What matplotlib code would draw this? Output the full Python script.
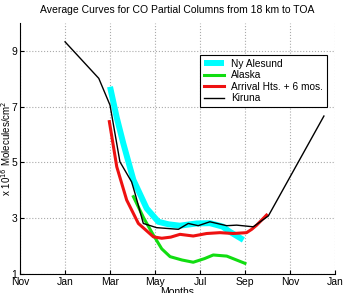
import matplotlib
matplotlib.use('Agg')
import matplotlib.pyplot as plt

plt.rcParams['font.family'] = ['Liberation Sans', 'DejaVu Sans']

# month index: 0 = Nov, 2 = Jan, ... 14 = Jan
tick_pos = [0, 2, 4, 6, 8, 10, 12, 14]
tick_labels = ['Nov', 'Jan', 'Mar', 'May', 'Jul', 'Sep', 'Nov', 'Jan']

ny_months = [4, 4.3, 4.59, 5.04, 5.63, 6.15, 6.6, 7.1, 7.85, 8.44, 9.0, 9.33, 9.93]
ny_vals = [7.71, 6.6, 5.68, 4.37, 3.35, 2.87, 2.78, 2.73, 2.81, 2.82, 2.7, 2.51, 2.22]

ak_months = [5.04, 5.5, 5.93, 6.3, 6.67, 7.2, 7.7, 8.2, 8.59, 9.19, 10.0]
ak_vals = [3.77, 3.0, 2.39, 1.9, 1.62, 1.5, 1.42, 1.55, 1.68, 1.64, 1.38]

ah_months = [3.97, 4.3, 4.74, 5.26, 5.93, 6.3, 6.7, 7.11, 7.7, 8.3, 8.89, 9.48, 10.07, 10.3, 10.52, 10.96]
ah_vals = [6.46, 4.84, 3.65, 2.81, 2.33, 2.28, 2.32, 2.42, 2.36, 2.45, 2.48, 2.45, 2.48, 2.6, 2.75, 3.11]

ki_months = [2, 3.5, 4, 4.44, 4.96, 5.11, 5.48, 6.07, 7.04, 7.48, 7.92, 8.44, 9.19, 9.63, 10.37, 11.04, 13.51]
ki_vals = [9.32, 8.01, 7.05, 5.02, 4.3, 3.89, 2.81, 2.66, 2.6, 2.81, 2.73, 2.87, 2.73, 2.75, 2.69, 3.08, 6.66]

fig = plt.figure(figsize=(3.46, 2.93), dpi=100)
ax = fig.add_axes([0.058, 0.065, 0.91, 0.857])

ax.plot(ny_months, ny_vals, color='#00ffff', lw=4.3, label='Ny Alesund', solid_capstyle='butt')
ax.plot(ak_months, ak_vals, color='#11dd11', lw=2.2, label='Alaska')
ax.plot(ah_months, ah_vals, color='#ee1111', lw=2.2, label='Arrival Hts. + 6 mos.')
ax.plot(ki_months, ki_vals, color='black', lw=1.0, label='Kiruna')

ax.set_xlim(0, 14)
ax.set_ylim(1, 10)
ax.set_xticks(tick_pos)
ax.set_xticklabels(tick_labels)
ax.set_yticks([1, 3, 5, 7, 9])
ax.tick_params(direction='in', labelsize=7.5, length=3, pad=2)
ax.grid(True, linestyle=':', color='#aaaaaa', linewidth=0.8)
ax.spines['top'].set_visible(False)
ax.spines['right'].set_visible(False)

ax.set_title('Average Curves for CO Partial Columns from 18 km to TOA', fontsize=7.5, pad=7)
ax.set_xlabel('Months', fontsize=7.5, labelpad=0)
ax.set_ylabel('x 10$^{16}$ Molecules/cm$^2$', fontsize=7)
# the label sits over the tick numbers, as in the original
ax.yaxis.set_label_coords(-0.022, 0.5)

leg = ax.legend(loc='upper right', bbox_to_anchor=(0.944, 0.812),
                bbox_transform=fig.transFigure, borderaxespad=0, fontsize=7.3,
                handlelength=2.0, handletextpad=0.7, fancybox=False, framealpha=1,
                edgecolor='black', borderpad=0.35, labelspacing=0.15)
leg.get_frame().set_linewidth(0.8)

fig.savefig('out.png', dpi=100)
